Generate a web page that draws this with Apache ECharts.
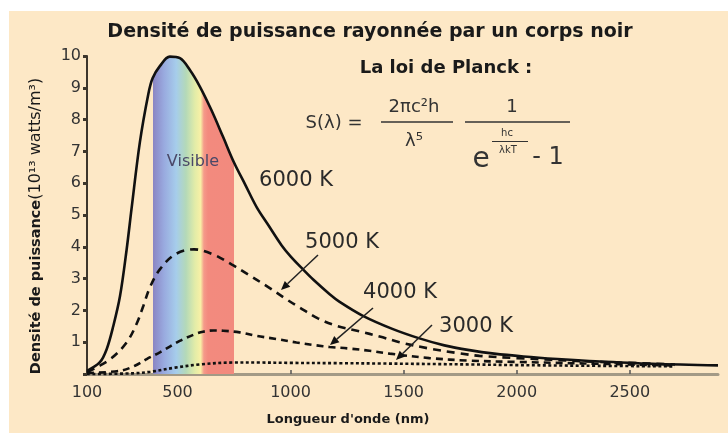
<!DOCTYPE html>
<html><head><meta charset="utf-8">
<script src="https://cdn.jsdelivr.net/npm/echarts@6/dist/echarts.min.js"></script>
<style>html,body{margin:0;padding:0;background:#fff}#c{width:728px;height:436px}</style>
</head><body><div id="c"></div>
<script>
// ---- data (wavelength nm, power density 1e13 W/m3) ----
const titleText = 'Densité de puissance rayonnée par un corps noir';
const xTickLabels = [100, 500, 1000, 1500, 2000, 2500];
const xTickMarks = [500, 1000, 1500, 2000, 2500];
const yTickLabels = [1, 2, 3, 4, 5, 6, 7, 8, 9, 10];
const curveNames = ['6000 K', '5000 K', '4000 K', '3000 K'];
const visibleRange = [390, 750];
const curve6000 = [[100,0.1],[157,0.37],[187,0.78],[216,1.5],[246,2.45],[275,3.9],[297,5.2],[334,7.3],[371,8.8],[390,9.3],[422,9.68],[466,9.98],[511,9.93],[555,9.56],[599,9.04],[650,8.3],[702,7.45],[750,6.65],[800,5.95],[850,5.25],[900,4.7],[960,4.05],[1000,3.7],[1055,3.29],[1100,2.97],[1173,2.51],[1217,2.27],[1320,1.83],[1450,1.42],[1570,1.12],[1680,0.9],[1791,0.75],[1900,0.64],[2030,0.55],[2180,0.47],[2321,0.41],[2600,0.32],[2890,0.27]];
const curve5000 = [[100,0.06],[143,0.21],[209,0.5],[275,0.99],[319,1.57],[349,2.14],[378,2.72],[422,3.29],[489,3.76],[573,3.92],[658,3.76],[739,3.45],[812,3.13],[893,2.77],[982,2.35],[1040,2.09],[1121,1.75],[1202,1.52],[1305,1.34],[1394,1.18],[1482,1.0],[1614,0.8],[1747,0.65],[1835,0.57],[2000,0.5],[2300,0.4],[2700,0.3]];
const curve4000 = [[100,0.03],[246,0.1],[312,0.26],[364,0.47],[422,0.68],[510,1.04],[577,1.25],[613,1.33],[660,1.37],[702,1.36],[775,1.31],[849,1.2],[937,1.1],[1026,0.99],[1114,0.9],[1173,0.85],[1261,0.8],[1349,0.73],[1438,0.64],[1614,0.5],[1791,0.42],[2000,0.38],[2300,0.33],[2700,0.27]];
const curve3000 = [[100,0],[300,0.02],[380,0.07],[489,0.2],[599,0.3],[745,0.36],[860,0.36],[1000,0.35],[1217,0.34],[1400,0.33],[1800,0.3],[2000,0.28],[2300,0.26],[2700,0.24]];
const xMin = 100, xMax = 2890;

const chart = echarts.init(document.getElementById('c'), null, {renderer:'canvas'});
const FONT = 'DejaVu Sans';
function txt(text, x, y, size, opts) {
  opts = opts || {};
  return {type:'text', x:x, y:y, z:50, silent:true, rotation: opts.rotation || 0,
    style:{text:text, x:0, y:0, fontFamily:FONT, fontSize:size, fontWeight: opts.bold ? 'bold':'normal',
      fill: opts.color || '#2a2a2a', align: opts.align || 'center', textAlign: opts.align || 'center',
      verticalAlign:'middle', textVerticalAlign:'middle', rich: opts.rich}};
}
function seg(x1,y1,x2,y2,w,color){
  return {type:'line', z:50, silent:true, shape:{x1:x1,y1:y1,x2:x2,y2:y2}, style:{stroke: color||'#2a2a2a', lineWidth:w||1.5}};
}
function arrow(x1,y1,x2,y2){
  const a = Math.atan2(y2-y1, x2-x1), L = 9, W = 4;
  const bx = x2 - L*Math.cos(a), by = y2 - L*Math.sin(a);
  const px = -Math.sin(a)*W, py = Math.cos(a)*W;
  return [seg(x1,y1,bx,by,1.5,'#222'),
    {type:'polygon', z:50, silent:true, shape:{points:[[x2,y2],[bx+px,by+py],[bx-px,by-py]]}, style:{fill:'#111'}}];
}
const graphics = [
  {type:'rect', z:-10, silent:true, shape:{x:9, y:11, width:719, height:422}, style:{fill:'#fde8c6'}},
  txt('La loi de Planck :', 446, 68, 18, {bold:true, color:'#1a1a1a'}),
  txt('S(λ) =', 334, 123, 18, {color:'#333'}),
  txt('2πc²h', 414, 107, 18, {color:'#333'}),
  seg(381,122,453,122,1.5,'#333'),
  txt('λ⁵', 414, 141, 18, {color:'#333'}),
  txt('1', 512, 107, 18, {color:'#333'}),
  seg(465,122,570,122,1.5,'#333'),
  txt('e', 481, 160, 28, {color:'#333'}),
  txt('hc', 507, 133, 10, {color:'#333'}),
  seg(492,141.5,528,141.5,1,'#333'),
  txt('λkT', 508, 150, 10, {color:'#333'}),
  txt('- 1', 548, 158, 24, {color:'#333'}),
  txt('Visible', 193, 162, 16, {color:'#4a4868'}),
  txt(curveNames[0], 296, 181, 21),
  txt(curveNames[1], 342, 243, 21),
  txt(curveNames[2], 400, 293, 21),
  txt(curveNames[3], 476, 327, 21),
  txt('Longueur d\'onde (nm)', 348, 420, 13, {bold:true, color:'#1a1a1a'}),
  txt('{b|Densité de puissance}{n|(10¹³ watts/m³)}', 36, 226, 15, {rotation:Math.PI/2, color:'#1a1a1a',
     rich:{b:{fontFamily:FONT, fontSize:14.5, fontWeight:'bold', fill:'#1a1a1a', color:'#1a1a1a'}, n:{fontFamily:FONT, fontSize:16, fill:'#1a1a1a', color:'#1a1a1a'}}}),
].concat(arrow(318,255,281,290), arrow(373,308,330,345), arrow(432,325,396,360));

// gradient offsets of the visible band along the 6000 K area (bbox spans xMin..xMax)
const o1 = (visibleRange[0] - xMin) / (xMax - xMin), o2 = (visibleRange[1] - xMin) / (xMax - xMin);
const spectrum = [[0,'#8a84c2'],[0.14,'#99aadf'],[0.29,'#a6cdeb'],[0.41,'#b4d9b8'],[0.52,'#e2eca8'],[0.59,'#f8f0a6'],[0.63,'#f59a8a'],[0.68,'#f38a7e'],[1,'#f28a7e']];
const bandStops = [{offset:0, color:'rgba(0,0,0,0)'}, {offset:o1, color:'rgba(0,0,0,0)'}]
  .concat(spectrum.map(s => ({offset: o1 + s[0]*(o2-o1), color: s[1]})))
  .concat([{offset:o2, color:'rgba(0,0,0,0)'}, {offset:1, color:'rgba(0,0,0,0)'}]);

const SMOOTH = 0.35;
function curve(name, data, type, z) {
  return {name:name, type:'line', data:data, showSymbol:false, smooth:SMOOTH, z:z||3, silent:true, clip:false,
    lineStyle:{color:'#111', width:2.6, type:type}};
}
const band = {name:'Visible', type:'line', data:curve6000, showSymbol:false, smooth:SMOOTH, z:1, silent:true, clip:false,
  lineStyle:{width:0, opacity:0},
  areaStyle:{opacity:1, color:{type:'linear', x:0, y:0, x2:1, y2:0, colorStops:bandStops}}};
chart.setOption({
  backgroundColor:'#ffffff',
  animation:false,
  textStyle:{fontFamily:FONT},
  title:{text:titleText, left:370, top:23, textAlign:'center', padding:0,
    textStyle:{fontFamily:FONT, fontSize:19, fontWeight:'bold', color:'#1a1a1a'}},
  grid:{left:87, right:10, top:56, bottom:62},
  xAxis:{type:'value', min:xMin, max:xMax,
    axisLine:{lineStyle:{color:'#a39a86', width:3}},
    axisTick:{customValues:xTickMarks, inside:true, length:4, lineStyle:{color:'#555', width:1.5}},
    axisLabel:{customValues:xTickLabels, formatter: v => String(v), fontSize:16, color:'#333', margin:11, fontFamily:FONT},
    splitLine:{show:false}},
  yAxis:{type:'value', min:0, max:10, interval:1,
    axisLine:{show:true, lineStyle:{color:'#3d362c', width:2}},
    axisTick:{show:true, length:4, lineStyle:{color:'#3d362c', width:3}},
    axisLabel:{formatter: v => (yTickLabels.indexOf(v) >= 0 ? String(v) : ''), fontSize:16, color:'#333', margin:6, fontFamily:FONT},
    splitLine:{show:false}},
  graphic: graphics,
  series:[
    band,
    curve(curveNames[0], curve6000, 'solid', 5),
    curve(curveNames[1], curve5000, [8,6], 4),
    curve(curveNames[2], curve4000, [7,5], 4),
    curve(curveNames[3], curve3000, [3,2.5], 4)
  ]
});
</script></body></html>
